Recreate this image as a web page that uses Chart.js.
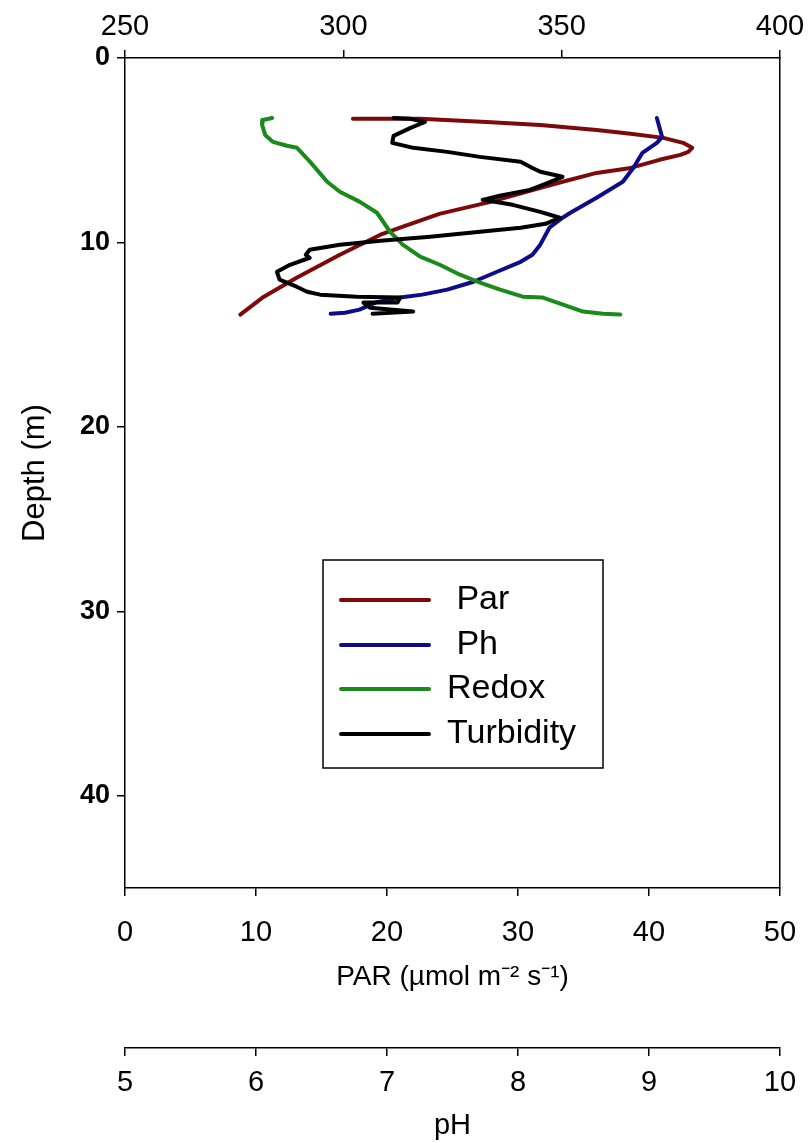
<!DOCTYPE html>
<html>
<head>
<meta charset="utf-8">
<script src="https://cdn.jsdelivr.net/npm/chart.js@4.4.1/dist/chart.umd.min.js"></script>
<style>
  html, body { margin: 0; padding: 0; background: #fff; }
  #wrap { position: relative; width: 810px; height: 1143px; }
</style>
</head>
<body>
<div id="wrap"><canvas id="profile"></canvas></div>
<script>
// depth profile: PAR, pH, redox and turbidity vs depth (m)
const parDepth  = [3.30, 3.30, 3.47, 3.63, 3.90, 4.11, 4.33, 4.60, 4.87, 5.09, 5.25, 5.52, 5.96, 6.23, 6.71, 7.20, 7.80, 8.45, 9.20, 9.58, 10.67, 11.91, 12.99, 13.91];
const parValue  = [17.4, 22.5, 27.6, 31.7, 36.0, 38.6, 41.1, 42.6, 43.3, 43.0, 42.4, 40.8, 38.6, 36.0, 33.4, 30.9, 27.9, 24.0, 21.0, 19.5, 16.4, 13.1, 10.5, 8.8];

const phDepth   = [3.25, 4.28, 4.60, 5.14, 5.96, 6.71, 7.58, 8.39, 8.66, 9.20, 10.12, 10.67, 11.05, 11.59, 12.13, 12.56, 12.83, 12.99, 13.26, 13.64, 13.81, 13.86];
const phValue   = [9.06, 9.10, 9.06, 8.95, 8.88, 8.80, 8.60, 8.40, 8.34, 8.24, 8.17, 8.11, 8.02, 7.84, 7.66, 7.46, 7.27, 7.10, 6.91, 6.79, 6.68, 6.57];

const redoxDepth = [3.25, 3.36, 3.63, 4.17, 4.55, 4.76, 4.87, 5.63, 6.71, 7.25, 7.80, 8.39, 9.42, 10.12, 10.77, 11.21, 11.75, 12.18, 12.56, 12.94, 12.99, 13.37, 13.75, 13.86, 13.91];
const redoxValue = [283.7, 281.6, 281.4, 282.1, 283.9, 287.1, 289.4, 292.4, 296.3, 299.2, 303.8, 307.7, 310.7, 313.6, 317.6, 322.1, 326.7, 331.3, 335.9, 341.1, 345.7, 350.3, 354.9, 359.5, 363.4];

const turbDepth = [3.25, 3.30, 3.47, 3.79, 4.22, 4.60, 4.87, 5.09, 5.36, 5.63, 5.96, 6.17, 6.44, 6.82, 7.15, 7.47, 7.69, 7.96, 8.34, 8.66, 8.99, 9.20, 9.42, 9.69, 9.91, 10.12, 10.40, 10.67, 10.83, 11.21, 11.59, 12.02, 12.40, 12.67, 12.83, 12.94, 12.99, 13.26, 13.26, 13.54, 13.75, 13.86];
const turbValue = [20.5, 21.8, 22.9, 21.8, 20.5, 20.4, 22.0, 24.6, 27.1, 30.2, 31.1, 31.7, 33.4, 32.1, 30.9, 28.6, 27.3, 29.6, 31.7, 33.2, 32.1, 30.2, 27.1, 23.3, 19.5, 16.4, 14.1, 13.8, 14.1, 12.6, 11.6, 11.8, 13.1, 13.9, 14.9, 17.7, 21.0, 20.8, 18.2, 18.7, 22.0, 18.9];

const depthTicks = [0, 10, 20, 30, 40];
const redoxTicks = [250, 300, 350, 400];
const parTicks   = [0, 10, 20, 30, 40, 50];
const phTicks    = [5, 6, 7, 8, 9, 10];

const FONT = "'Liberation Sans', Arial, sans-serif";

const pts = (xs, ys) => xs.map((x, i) => ({ x: x, y: ys[i] }));

function series(label, xs, ys, color, axis, order) {
  return {
    label, data: pts(xs, ys), xAxisID: axis, yAxisID: 'y',
    borderColor: color, backgroundColor: color, borderWidth: 4,
    showLine: true, pointRadius: 0, tension: 0, order,
    borderJoinStyle: 'round', borderCapStyle: 'round'
  };
}

const grid   = { drawOnChartArea: false, drawTicks: true, tickLength: 8, color: '#000', lineWidth: 1.5 };
const border = { display: true, color: '#000', width: 1.5 };
const tickFont = { family: FONT, size: 29 };

function fixedTicks(values) {
  return s => { s.ticks = values.map(v => ({ value: v })); };
}

// fixed box sizes, and no extra room for labels hanging past the ends
function fitWidth(w) {
  return s => { s.width = w; s.paddingTop = 0; s.paddingBottom = 0; };
}
function fitHeight(h) {
  return s => { s.height = h; s.paddingLeft = 0; s.paddingRight = 0; };
}

// legend drawn as a framed box inside the plot
const boxLegend = {
  id: 'boxLegend',
  afterDraw(chart) {
    const ctx = chart.ctx;
    const L = { left: 323, top: 560, w: 280, h: 208, rows: [600, 645, 689, 734], x0: 341, len: 88, tx: 447 };
    ctx.save();
    ctx.fillStyle = '#fff';
    ctx.fillRect(L.left, L.top, L.w, L.h);
    ctx.strokeStyle = '#000';
    ctx.lineWidth = 1.5;
    ctx.strokeRect(L.left, L.top, L.w, L.h);
    ctx.font = '34px ' + FONT;
    ctx.textBaseline = 'middle';
    chart.data.datasets.forEach((ds, i) => {
      const y = L.rows[i];
      ctx.strokeStyle = ds.borderColor;
      ctx.lineWidth = 4;
      ctx.lineCap = 'round';
      ctx.beginPath();
      ctx.moveTo(L.x0, y);
      ctx.lineTo(L.x0 + L.len, y);
      ctx.stroke();
      ctx.fillStyle = '#000';
      ctx.fillText(ds.label, L.tx, y);
    });
    ctx.restore();
  }
};

new Chart(document.getElementById('profile'), {
  type: 'scatter',
  data: {
    datasets: [
      series(' Par', parValue, parDepth, '#7d0a0a', 'xPar', 3),
      series(' Ph', phValue, phDepth, '#0d0d8a', 'xPh', 2),
      series('Redox', redoxValue, redoxDepth, '#1a8a1a', 'xRedox', 1),
      series('Turbidity', turbValue, turbDepth, '#000000', 'xPar', 0)
    ]
  },
  options: {
    responsive: true,
    maintainAspectRatio: false,
    animation: false,
    layout: { padding: 0 },
    plugins: { legend: { display: false }, tooltip: { enabled: false } },
    scales: {
      y: {
        type: 'linear', position: 'left', reverse: true, min: 0, max: 45,
        afterBuildTicks: fixedTicks(depthTicks),
        ticks: { padding: 7, color: '#000', font: { family: FONT, size: 27, weight: 'bold' } },
        grid, border,
        title: { display: true, text: 'Depth (m)', color: '#000', font: { family: FONT, size: 31 }, padding: { top: 17 } },
        afterFit: fitWidth(125)
      },
      yEdge: {
        type: 'linear', position: 'right', reverse: true, min: 0, max: 45,
        ticks: { display: false },
        grid: { display: false, drawTicks: false },
        border,
        afterFit: fitWidth(30)
      },
      xRedox: {
        type: 'linear', position: 'top', min: 250, max: 400,
        afterBuildTicks: fixedTicks(redoxTicks),
        ticks: { padding: 6, color: '#000', font: tickFont },
        grid, border,
        afterFit: fitHeight(58)
      },
      xPar: {
        type: 'linear', position: 'bottom', min: 0, max: 50, weight: 0,
        afterBuildTicks: fixedTicks(parTicks),
        ticks: { padding: 20, color: '#000', font: tickFont },
        grid, border,
        title: { display: true, text: 'PAR (µmol m⁻² s⁻¹)', color: '#000', font: { family: FONT, size: 28 }, padding: { bottom: 54 } },
        afterFit: fitHeight(160)
      },
      xPh: {
        type: 'linear', position: 'bottom', min: 5, max: 10, weight: 1,
        afterBuildTicks: fixedTicks(phTicks),
        ticks: { padding: 10, color: '#000', font: tickFont },
        grid, border,
        title: { display: true, text: 'pH', color: '#000', font: { family: FONT, size: 29 }, padding: { bottom: 0 } },
        afterFit: fitHeight(95)
      }
    }
  },
  plugins: [boxLegend]
});
</script>
</body>
</html>
